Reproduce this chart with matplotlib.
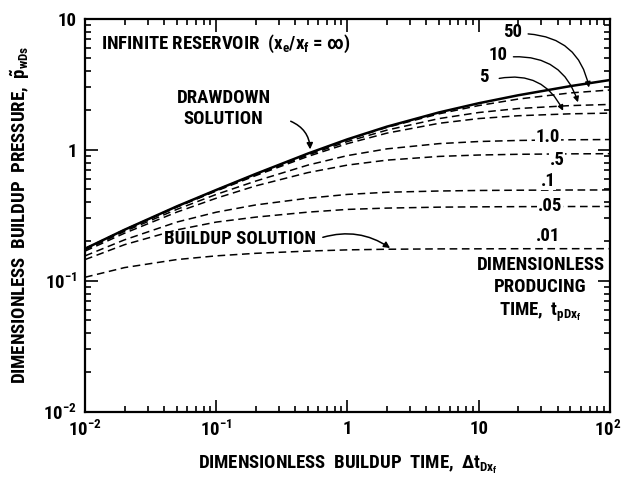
import matplotlib
matplotlib.use("Agg")
import matplotlib.pyplot as plt
import matplotlib.transforms as mtransforms
from matplotlib import font_manager

# prefer a narrow sans face for the lettering
names = {f.name for f in font_manager.fontManager.ttflist}
narrow = [n for n in ["Roboto Condensed", "Liberation Sans Narrow", "Open Sans Condensed",
                      "DejaVu Sans Condensed", "Noto Sans Condensed"] if n in names]
face = narrow[0] if narrow else "DejaVu Sans"
fs = 13.5 if narrow else 10

plt.rcParams["font.family"] = [face, "DejaVu Sans"]
plt.rcParams["font.weight"] = "bold"
plt.rcParams["axes.labelweight"] = "bold"
plt.rcParams["mathtext.fontset"] = "custom"
plt.rcParams["mathtext.rm"] = face + ":bold"
plt.rcParams["mathtext.it"] = face + ":bold"
plt.rcParams["mathtext.bf"] = face + ":bold"

# dimensionless buildup time grid
dt = [0.01, 0.02, 0.05, 0.1, 0.2, 0.5, 1, 2, 5, 10, 20, 50, 100]

# drawdown solution
drawdown = [0.176, 0.2455, 0.370, 0.494, 0.655, 0.937, 1.203, 1.503, 1.931, 2.267, 2.608, 3.063, 3.409]

# buildup curves keyed by producing time
tp_labels = ["50", "10", "5", "1.0", ".5", ".1", ".05", ".01"]
bu_50 = [0.176, 0.2455, 0.3696, 0.4934, 0.6527, 0.9317, 1.193, 1.484, 1.883, 2.176, 2.440, 2.718, 2.861]
bu_10 = [0.1757, 0.245, 0.3671, 0.4894, 0.6447, 0.9127, 1.157, 1.414, 1.732, 1.926, 2.066, 2.176, 2.220]
bu_5 = [0.175, 0.2436, 0.3651, 0.4849, 0.6359, 0.8907, 1.115, 1.341, 1.594, 1.732, 1.820, 1.883, 1.906]
bu_1 = [0.1723, 0.2383, 0.3509, 0.4567, 0.5774, 0.7647, 0.9035, 1.017, 1.115, 1.157, 1.179, 1.193, 1.198]
bu_05 = [0.1687, 0.231, 0.3345, 0.4272, 0.5307, 0.6701, 0.7647, 0.8342, 0.8907, 0.9127, 0.9244, 0.9317, 0.9342]
bu_01 = [0.1551, 0.2056, 0.2808, 0.3341, 0.3796, 0.4272, 0.4567, 0.4744, 0.4849, 0.4894, 0.4917, 0.4934, 0.4939]
bu_005 = [0.1453, 0.1888, 0.2448, 0.2808, 0.3064, 0.3345, 0.3509, 0.3591, 0.3651, 0.3671, 0.3683, 0.3691, 0.3694]
bu_001 = [0.1065, 0.1262, 0.1453, 0.1551, 0.1622, 0.1687, 0.1723, 0.1742, 0.1753, 0.1755, 0.1758, 0.1759, 0.176]
buildup = [bu_50, bu_10, bu_5, bu_1, bu_05, bu_01, bu_005, bu_001]

fig = plt.figure(figsize=(6.21, 4.95), dpi=100)
ax = fig.add_axes([0.137, 0.168, 0.845, 0.794])
ax.set_xscale("log")
ax.set_yscale("log")
ax.set_xlim(0.01, 100)
ax.set_ylim(0.01, 10)

for series in buildup:
    ax.plot(dt, series, color="black", lw=1.1, linestyle=(0, (5, 3)))
ax.plot(dt, drawdown, color="black", lw=1.8, solid_capstyle="butt")

for side in ax.spines.values():
    side.set_linewidth(1.6)
ax.tick_params(which="both", direction="in", top=True, right=True, width=1.2, labelsize=fs, pad=6)
ax.tick_params(which="major", length=9)
ax.tick_params(which="minor", length=4.5)
ax.set_xticks([0.01, 0.1, 1, 10, 100])
ax.set_xticklabels([r"10$^{-2}$", r"10$^{-1}$", "1", "10", r"10$^{2}$"])
ax.set_yticks([0.01, 0.1, 1, 10])
ax.set_yticklabels([r"10$^{-2}$", r"10$^{-1}$", "1", "10"])

# keep the last x label inside the frame edge
last = ax.get_xticklabels()[-1]
last.set_ha("right")
last.set_transform(last.get_transform() + mtransforms.ScaledTranslation(8 / 72, 0, fig.dpi_scale_trans))

ax.set_xlabel(r"DIMENSIONLESS  BUILDUP  TIME,  $\Delta t_{Dx_f}$", fontsize=fs, labelpad=10)
ax.set_ylabel(r"DIMENSIONLESS  BUILDUP  PRESSURE,  $\tilde{p}_{wDs}$", fontsize=fs, labelpad=8)

ax.text(0.03, 0.935, r"INFINITE RESERVOIR  (x$_e$/x$_f$ = $\infty$)", transform=ax.transAxes,
        fontsize=fs, va="center", ha="left")

# drawdown label and arrow
ax.text(0.264, 0.772, "DRAWDOWN\nSOLUTION", transform=ax.transAxes, fontsize=fs,
        ha="center", va="center", linespacing=1.25)
ax.annotate("", xy=(0.52, 0.96), xycoords="data", xytext=(0.387, 0.742), textcoords="axes fraction",
            arrowprops=dict(arrowstyle="-|>", connectionstyle="arc3,rad=-0.35", lw=1.1,
                            color="black", mutation_scale=9))

# buildup label and arrow
ax.text(0.15, 0.44, "BUILDUP SOLUTION", transform=ax.transAxes, fontsize=fs, ha="left", va="center")
ax.annotate("", xy=(2.2, 0.173), xycoords="data", xytext=(0.448, 0.442), textcoords="axes fraction",
            arrowprops=dict(arrowstyle="-|>", connectionstyle="arc3,rad=-0.25", lw=1.1,
                            color="black", mutation_scale=9))

# producing time labels with arrows
arrow_lbls = [("50", (0.815, 0.967), (70, 2.85)),
              ("10", (0.787, 0.908), (58, 2.2)),
              ("5", (0.760, 0.852), (45, 1.9))]
for txt, pos, tip in arrow_lbls:
    ax.text(pos[0], pos[1], txt, transform=ax.transAxes, fontsize=fs, ha="center", va="center")
    ax.annotate("", xy=tip, xycoords="data", xytext=(pos[0] + 0.024, pos[1] - 0.005),
                textcoords="axes fraction",
                arrowprops=dict(arrowstyle="-|>", connectionstyle="arc3,rad=-0.4", lw=1.0,
                                color="black", mutation_scale=8))

inline = [("1.0", (0.882, 0.700)), (".5", (0.899, 0.641)), (".1", (0.882, 0.588)),
          (".05", (0.886, 0.524)), (".01", (0.882, 0.447))]
for txt, pos in inline:
    ax.text(pos[0], pos[1], txt, transform=ax.transAxes, fontsize=fs, ha="center", va="center",
            bbox=dict(facecolor="white", edgecolor="none", pad=0.5))

ax.text(0.868, 0.31, "DIMENSIONLESS\nPRODUCING\n" + r"TIME,  t$_{pDx_f}$", transform=ax.transAxes,
        fontsize=fs, ha="center", va="center", multialignment="center", linespacing=1.3)

fig.savefig("out.png", dpi=100)
